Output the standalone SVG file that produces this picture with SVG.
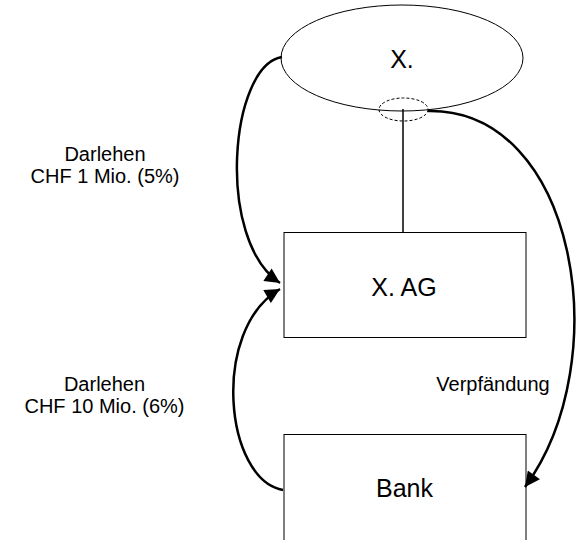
<svg xmlns="http://www.w3.org/2000/svg" width="577" height="540" viewBox="0 0 577 540">
<defs>
<style>
.shape{fill:#fff;stroke:#000;stroke-width:1}
.lbl{font-family:"Liberation Sans",Arial,sans-serif;fill:#000;text-anchor:middle}
.big{font-size:25px}
.small{font-size:20px}
.arc{fill:none;stroke:#000;stroke-width:2.5}
</style>
<marker id="ah" viewBox="0 0 10 10" refX="10" refY="5" markerWidth="6.5" markerHeight="6" markerUnits="strokeWidth" orient="auto">
<path d="M0,0 L10,5 L0,10 z" fill="#000"/>
</marker>
</defs>
<g id="node-x">
<ellipse class="shape" cx="402" cy="58" rx="121" ry="53"/>
<text class="lbl big" x="402" y="68">X.</text>
</g>
<g id="node-ag">
<rect class="shape" x="284" y="232.5" width="242" height="105"/>
<text class="lbl big" x="404" y="296">X. AG</text>
</g>
<g id="node-bank">
<rect class="shape" x="284" y="434.5" width="242" height="120"/>
<text class="lbl big" x="404.5" y="497">Bank</text>
</g>
<g id="connectors">
<line x1="403" y1="109" x2="403" y2="232" stroke="#000" stroke-width="1.5"/>
<ellipse cx="403.5" cy="109.5" rx="24.5" ry="11.5" fill="none" stroke="#000" stroke-width="1" stroke-dasharray="3,2"/>
<path class="arc" d="M282,57 C230,65 215,240 280,283" marker-end="url(#ah)"/>
<path class="arc" d="M283,490 C225,480 210,330 280,289" marker-end="url(#ah)"/>
<path class="arc" d="M428,111 C576,108 618,360 525,487" marker-end="url(#ah)"/>
</g>
<g id="labels">
<text class="lbl small" x="105" y="161">Darlehen</text>
<text class="lbl small" x="105" y="183">CHF 1 Mio. (5%)</text>
<text class="lbl small" x="104.5" y="391">Darlehen</text>
<text class="lbl small" x="104.5" y="413">CHF 10 Mio. (6%)</text>
<text class="lbl small" x="493" y="391">Verpfändung</text>
</g>
</svg>
